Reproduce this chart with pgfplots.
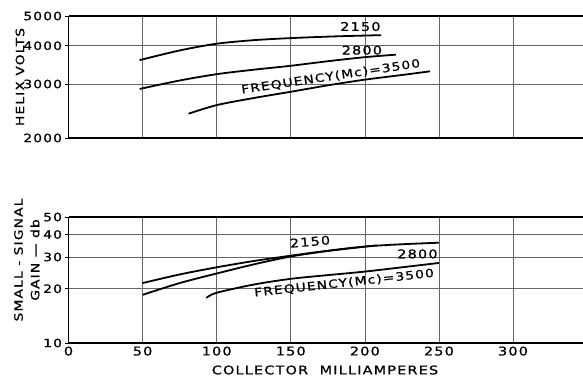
\documentclass[border=0pt]{standalone}
\usepackage{pgfplots}
\pgfplotsset{compat=1.18}
\usepackage{fontspec}
\setmainfont{DejaVu Sans}
\newfontfamily\lab[FakeStretch=1.2,LetterSpace=10,FakeBold=0.8]{DejaVu Sans}
\tikzset{curve/.style={black, line width=1.8pt, smooth, mark=none}}
\begin{document}
\begin{tikzpicture}
\useasboundingbox (-68.5pt,-33pt) rectangle (514.5pt,343pt);
% ---------------- top panel: helix volts
\begin{axis}[
  scale only axis, width=518.6pt, height=122pt,
  at={(0pt,205pt)}, anchor=south west,
  xmin=0, xmax=350, xtick={0,50,...,300}, xticklabels={},
  ymode=log, ymin=2000, ymax=5000,
  ytick={2000,3000,4000,5000}, yticklabels={2000,3000,4000,5000},
  grid=major,
  major grid style={black!60, line width=0.6pt},
  axis x line*=box, axis y line*=left,
  axis line style={line width=1.1pt,-},
  xtick style={draw=none},
  ytick style={black, line width=0.6pt},
  major tick length=3pt, ytick align=outside,
  tick label style={font=\lab\fontsize{11.5}{12}\selectfont, text=black}]
\addplot[curve] coordinates {(48,3590) (75,3860) (100,4060) (125,4170) (150,4235) (180,4290) (211,4330)};
\addplot[curve] coordinates {(48,2890) (75,3080) (100,3230) (125,3340) (150,3440) (175,3560) (200,3670) (221,3740)};
\addplot[curve] coordinates {(81,2400) (100,2560) (125,2700) (150,2830) (175,2970) (200,3100) (225,3210) (244,3300)};
\node[font=\lab\fontsize{12}{12}\selectfont] at (axis cs:197,4620) {2150};
\node[font=\lab\fontsize{12}{12}\selectfont] at (axis cs:198,3869) {2800};
\node[font=\lab\fontsize{11.5}{12}\selectfont, rotate=8.5] at (axis cs:177,3169) {FREQUENCY(Mc)=3500};
\end{axis}
% ---------------- bottom panel: gain
\begin{axis}[
  scale only axis, width=518.6pt, height=126pt,
  at={(0pt,0pt)}, anchor=south west,
  xmin=0, xmax=350, xtick={0,50,...,300},
  xticklabels={0,50,100,150,200,250,300},
  ymode=log, ymin=10, ymax=50,
  ytick={10,20,30,40,50}, yticklabels={10,20,30,40,50},
  grid=major,
  major grid style={black!60, line width=0.6pt},
  axis x line*=box, axis y line*=left,
  axis line style={line width=1.1pt,-},
  xtick style={draw=none},
  ytick style={black, line width=0.6pt},
  major tick length=3pt, ytick align=outside,
  tick label style={font=\lab\fontsize{11.5}{12}\selectfont, text=black},
  xticklabel style={font=\lab\fontsize{12}{12}\selectfont}]
\addplot[curve] coordinates {(50,21.5) (75,24.0) (100,26.3) (125,28.5) (150,30.5) (175,32.5) (200,34.3) (225,35.3) (250,36)};
\addplot[curve] coordinates {(50,18.5) (75,21.5) (100,24.3) (125,27.3) (150,30.2) (175,32.4) (208,34.8)};
\addplot[curve] coordinates {(93,17.8) (100,19.0) (125,21.1) (150,22.7) (175,23.8) (200,24.9) (225,26.3) (250,27.8)};
\node[font=\lab\fontsize{12}{12}\selectfont, rotate=5] at (axis cs:163,36.5) {2150};
\node[font=\lab\fontsize{12}{12}\selectfont] at (axis cs:235.5,31.2) {2800};
\node[font=\lab\fontsize{11.5}{12}\selectfont, rotate=6.3] at (axis cs:186,21.5) {FREQUENCY(Mc)=3500};
\end{axis}
% axis titles
\node[font=\lab\fontsize{11.5}{12}\selectfont, rotate=90] at (-48.5pt,266pt) {HELIX VOLTS};
\node[font=\lab\fontsize{11.5}{12}\selectfont, rotate=90] at (-50pt,83pt) {SMALL - SIGNAL};
\node[font=\lab\fontsize{11.5}{12}\selectfont, rotate=90] at (-33.5pt,83pt) {GAIN — db};
\node[font=\lab\fontsize{12}{12}\selectfont] at (256.5pt,-27pt) {COLLECTOR\ \ MILLIAMPERES};
\end{tikzpicture}
\end{document}
